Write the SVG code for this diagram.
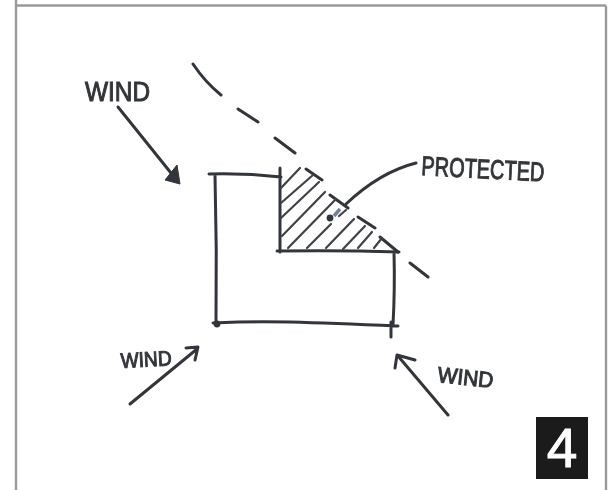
<svg xmlns="http://www.w3.org/2000/svg" width="614" height="490" viewBox="0 0 614 490">
<defs>
<filter id="soft" x="-5%" y="-5%" width="110%" height="110%"><feGaussianBlur stdDeviation="0.7"/></filter>
<style>
.ink{fill:none;stroke:#33363a;stroke-width:3;stroke-linecap:round;stroke-linejoin:round}
.thin{fill:none;stroke:#3f4246;stroke-width:2.2;stroke-linecap:round}
.hand{font-family:"Liberation Sans",Arial,sans-serif;fill:#33363a;stroke:#33363a;stroke-width:1}
</style>
</defs>
<rect width="614" height="490" fill="#ffffff"/>
<path id="frame" d="M16 0V490M16 5.5H606M606 5.5V490" fill="none" stroke="#9a9a9a" stroke-width="2.4"/>
<g id="sketch" filter="url(#soft)">
<g id="building">
<path class="ink" d="M209 174Q245 173 281 177M280 168L280 252M277 251Q340 250 399 252M394 252Q395 290 393 325M391 322L391 337M215 175Q217 250 216 324M213 323Q250 321 290 322T398 326"/>
<circle cx="217" cy="324" r="3.4" fill="#33363a"/>
</g>
<g id="shadow-edge">
<path class="ink" d="M193 64Q205 82 221 95M238 109L258 122M275 138L295 153M306 169L322 180M330 195L348 208M358 217L375 228M380 237L398 252M410 263L428 277"/>
</g>
<g id="hatching">
<path class="thin" d="M281 188L300 168M281 203L313 175M281 218L319 182M282 236L325 192M288 248L336 199M307 248L331 224M339 216L346 210M326 248L354 219M343 249L365 226M358 248L372 232M374 248L382 238"/>
</g>
<g id="wind-top">
<text class="hand" x="85" y="101" font-size="27" textLength="65" lengthAdjust="spacingAndGlyphs">WIND</text>
<path class="ink" d="M118 107L175 178"/>
<path d="M180 184L165 180L177 165Z" fill="#33363a" stroke="#33363a" stroke-linejoin="round"/>
</g>
<g id="wind-left">
<text class="hand" transform="rotate(-3 121 368)" x="121" y="368" font-size="21" textLength="51" lengthAdjust="spacingAndGlyphs">WIND</text>
<path class="ink" d="M130 404L197 349M186 348L198 347L195 360"/>
</g>
<g id="wind-right">
<text class="hand" transform="rotate(6 437 382)" x="437" y="382" font-size="22" textLength="56" lengthAdjust="spacingAndGlyphs">WIND</text>
<path class="ink" d="M448 415L398 356M415 360L397 355L395 368"/>
</g>
<g id="protected">
<text class="hand" transform="rotate(3 421 175)" x="421" y="175" font-size="27" textLength="123" lengthAdjust="spacingAndGlyphs">PROTECTED</text>
<path class="ink" d="M416 163Q380 172 346 204"/>
<path d="M340 209L334 216" fill="none" stroke="#6f8299" stroke-width="3.5"/>
<circle cx="330" cy="218" r="3.4" fill="#33363a"/>
</g>
</g>
<g id="badge">
<rect x="536" y="417" width="52" height="62" fill="#1b1b1b"/>
<text x="562" y="467" font-family="'Liberation Sans',Arial,sans-serif" font-size="55" fill="#ffffff" stroke="#ffffff" stroke-width="1" text-anchor="middle">4</text>
</g>
</svg>
